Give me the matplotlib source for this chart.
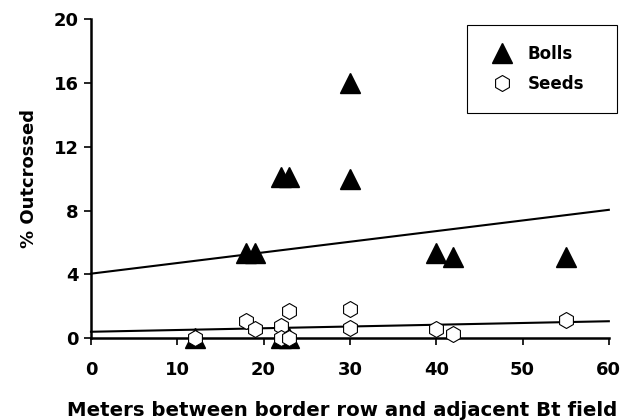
import matplotlib
matplotlib.use("Agg")
import matplotlib.pyplot as plt
import numpy as np

plt.rcParams['font.family'] = ['DejaVu Sans']
plt.rcParams['font.weight'] = 'bold'

# ── Data ─────────────────────────────────────────────────────────────────
boll_x = [12, 18, 19, 22, 22, 23, 23, 30, 30, 40, 42, 55]
boll_y = [0, 5.35, 5.35, 0, 10.1, 0, 10.1, 10.0, 16.0, 5.35, 5.1, 5.1]

seed_x = [12, 18, 19, 22, 22, 23, 23, 30, 30, 40, 42, 55]
seed_y = [0, 1.07, 0.6, 0.8, 0, 1.68, 0, 1.83, 0.62, 0.6, 0.25, 1.17]

# trend lines: (value at x=0, value at x=60)
boll_fit = (4.05, 8.05)
seed_fit = (0.41, 1.07)

x_ticks = [0, 10, 20, 30, 40, 50, 60]
y_ticks = [0, 4, 8, 12, 16, 20]

fig = plt.figure(figsize=(6.3, 4.2), dpi=100)
ax = fig.add_axes([0.1444, 0.1945, 0.822, 0.760])

fx = np.array([0, 60])
ax.plot(fx, boll_fit, color="black", lw=1.5, zorder=2, clip_on=False)
ax.plot(fx, seed_fit, color="black", lw=1.5, zorder=2, clip_on=False)

ax.plot(boll_x, boll_y, ls="none", marker="^", ms=14, mfc="black", mec="black",
        zorder=3, clip_on=False, label="Bolls")
ax.plot(seed_x, seed_y, ls="none", marker="h", ms=11.5, mfc="white", mec="black",
        mew=0.8, zorder=4, clip_on=False, label="Seeds")

ax.set_xlim(0, 60)
ax.set_ylim(0, 20)
ax.set_xticks(x_ticks)
ax.set_yticks(y_ticks)
ax.tick_params(direction="out", length=5, width=1.2, labelsize=13)
ax.tick_params(axis="x", pad=11)
ax.tick_params(axis="y", pad=4)
for lbl in ax.get_xticklabels() + ax.get_yticklabels():
    lbl.set_fontweight("bold")

for side in ("top", "right"):
    ax.spines[side].set_visible(False)
for side in ("left", "bottom"):
    ax.spines[side].set_linewidth(1.8)
    ax.spines[side].set_zorder(2.5)

ax.set_xlabel("Meters between border row and adjacent Bt field", fontsize=14.2,
              fontweight="bold", labelpad=16)
ax.xaxis.label.set_x(0.485)
ax.set_ylabel("% Outcrossed", fontsize=13, fontweight="bold", labelpad=11)

# legend box: fixed width, items left-aligned inside
leg = ax.legend(loc="upper right", bbox_to_anchor=(0.726, 0.6, 0.2894, 0.381),
                mode="expand", borderaxespad=0, frameon=True, fancybox=False,
                edgecolor="black", framealpha=1,
                handletextpad=0.66, borderpad=1.2, labelspacing=0.7,
                handlelength=1.8, prop={"weight": "bold", "size": 12})
leg.get_frame().set_linewidth(0.8)

fig.savefig("out.png", dpi=100, facecolor="white")
